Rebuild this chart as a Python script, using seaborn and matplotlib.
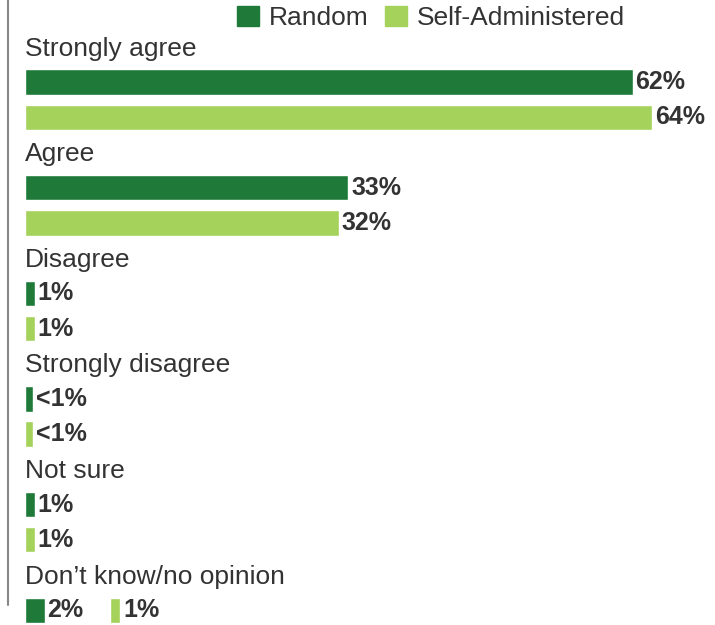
import matplotlib
matplotlib.use("Agg")
import matplotlib.pyplot as plt
import matplotlib.patches as mpatches
from matplotlib.lines import Line2D
import numpy as np
import pandas as pd
import seaborn as sns

# survey answers, shares in percent
categories = ["Strongly agree", "Agree", "Disagree", "Strongly disagree",
              "Not sure", "Don\u2019t know/no opinion"]
series = ["Random", "Self-Administered"]
random_vals = [62, 33, 1, 0.8, 1, 2]
self_vals = [64, 32, 1, 0.8, 1, 1]
random_labels = ["62%", "33%", "1%", "<1%", "1%", "2%"]
self_labels = ["64%", "32%", "1%", "<1%", "1%", "1%"]

colors = {"Random": "#1f7a3a", "Self-Administered": "#a5d25a"}
text_color = "#333333"

sns.set_style("white")
plt.rcParams["font.family"] = ["Liberation Sans", "DejaVu Sans"]

# each category takes three slots: label, Random bar, Self bar
# the last category puts both bars on one line
rows = []
for i, cat in enumerate(categories):
    base = 3 * i
    rows.append({"pos": base + 1, "value": random_vals[i], "series": "Random",
                 "label": random_labels[i]})
    if i < len(categories) - 1:
        rows.append({"pos": base + 2, "value": self_vals[i], "series": "Self-Administered",
                     "label": self_labels[i]})
df = pd.DataFrame(rows)

fig = plt.figure(figsize=(7.15, 6.25), dpi=100)
ax = fig.add_axes([25 / 715, 0, 690 / 715, 1])

sns.barplot(data=df, x="value", y="pos", hue="series", orient="h",
            native_scale=True, dodge=False, palette=colors, width=0.72,
            saturation=1, legend=False, ax=ax)

ax.set_xlim(0, 690 / 9.8)
ax.set_ylim(16.42, -1.33)
ax.axis("off")

for _, r in df.iterrows():
    ax.text(r["value"] + 0.3, r["pos"], r["label"], va="center", ha="left",
            fontsize=18, fontweight="bold", color=text_color)

# last category: Self-Administered bar sits on the same line, after the Random label
last = len(categories) - 1
offset = random_vals[last] + 6.7
ax.barh(3 * last + 1, self_vals[last], left=offset, height=0.72,
        color=colors["Self-Administered"])
ax.text(offset + self_vals[last] + 0.3, 3 * last + 1, self_labels[last],
        va="center", ha="left", fontsize=18, fontweight="bold", color=text_color)

for i, cat in enumerate(categories):
    ax.text(0, 3 * i + 0.05, cat, va="center", ha="left", fontsize=19,
            color=text_color)

handles = [mpatches.Patch(color=colors[s], label=s) for s in series]
fig.legend(handles=handles, loc="center", bbox_to_anchor=(431 / 715, 1 - 18 / 625),
           ncol=2, frameon=False, fontsize=19, handlelength=0.83, handleheight=0.83,
           handletextpad=0.38, columnspacing=0.64, labelcolor=text_color,
           borderaxespad=0, borderpad=0)

# thin frame line on the left edge
fig.add_artist(Line2D([8 / 715, 8 / 715], [1 - 605 / 625, 1], color="#888888",
                      lw=1.5, transform=fig.transFigure))

fig.savefig("out.png", dpi=100)
